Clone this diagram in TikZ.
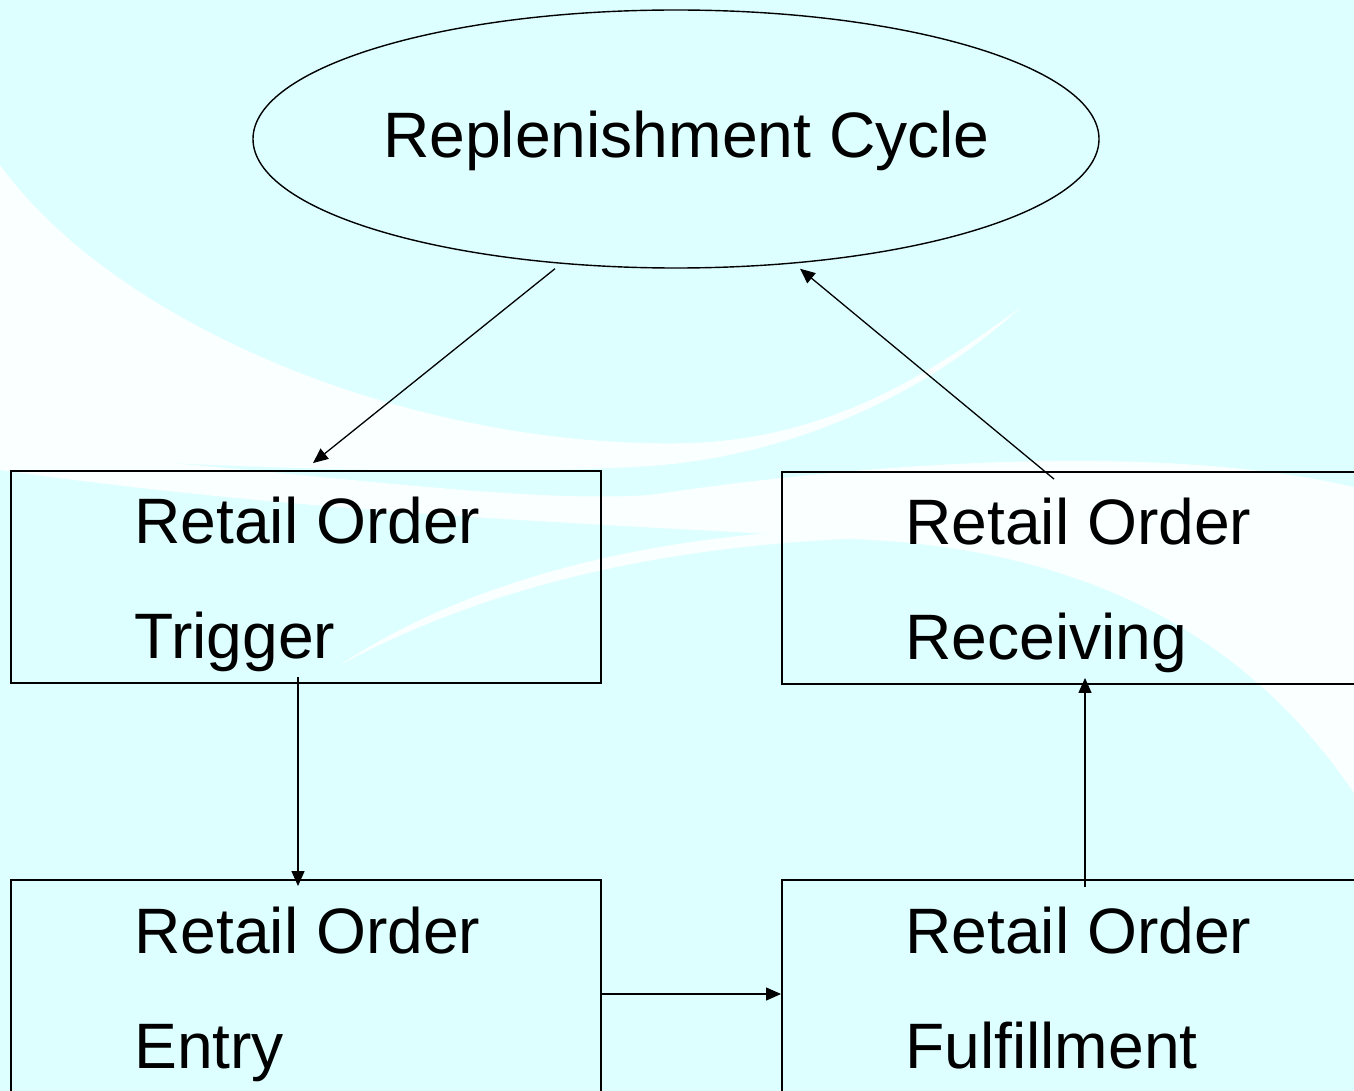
\documentclass[tikz,border=0pt]{standalone}
\usepackage{fontspec}
\setmainfont{Liberation Sans}[Ligatures=NoCommon]
\usetikzlibrary{arrows.meta,shapes.geometric}
\definecolor{bgcyan}{RGB}{221,255,255}
\definecolor{swoosh}{RGB}{250,255,255}
\begin{document}
\begin{tikzpicture}[x=1pt,y=-1pt,
  stagebox/.style={draw=black,line width=1.9pt,minimum width=590pt,minimum height=212pt,inner sep=0pt},
  cyclebox/.style={ellipse,draw=black,line width=1.4pt,minimum width=846pt,minimum height=258pt,inner sep=0pt},
  lbl/.style={anchor=base west,inner sep=0pt,font=\fontsize{64.2pt}{70pt}\selectfont},
  flow/.style={line width=1.3pt,-{Triangle[length=15pt,width=13pt]}}
]
\useasboundingbox (0,0) rectangle (1354,1091);
\clip (0,0) rectangle (1354,1091);

% background and white swooshes
\fill[bgcyan] (0,0) rectangle (1354,1091);
\fill[swoosh] (0,165) .. controls (120,330) and (420,450) .. (690,443)
  .. controls (850,438) and (960,350) .. (1020,308)
  .. controls (930,390) and (800,455) .. (650,466)
  .. controls (450,478) and (200,465) .. (0,455) -- cycle;
\fill[swoosh] (0,452) .. controls (250,462) and (500,505) .. (650,495)
  .. controls (850,465) and (1150,440) .. (1354,487) -- (1354,793)
  .. controls (1250,640) and (1100,560) .. (900,542)
  .. controls (700,527) and (350,520) .. (0,470) -- cycle;
\fill[swoosh] (340,665) .. controls (460,585) and (640,532) .. (870,528)
  -- (870,538) .. controls (640,546) and (470,595) .. (340,665) -- cycle;

% nodes
\node[cyclebox] (cyc) at (676,139) {};
\node[lbl] (cyctext) at (383,158) {Replenishment Cycle};

\node[stagebox] (trig) at (306,577) {};
\node[lbl] (trig1) at (134,543) {Retail Order};
\node[lbl] (trig2) at (134,658) {Trigger};

\node[stagebox] (rec) at (1077,578) {};
\node[lbl] (rec1) at (905,544) {Retail Order};
\node[lbl] (rec2) at (905,659) {Receiving};

\node[stagebox] (ent) at (306,986) {};
\node[lbl] (ent1) at (134,953) {Retail Order};
\node[lbl] (ent2) at (134,1068) {Entry};

\node[stagebox] (ful) at (1077,986) {};
\node[lbl] (ful1) at (905,953) {Retail Order};
\node[lbl] (ful2) at (905,1068) {Fulfillment};

% connectors
\draw[flow] ([xshift=-121pt]cyc.south) -- ([xshift=7pt,yshift=7pt]trig.north);
\draw[flow] ([xshift=-8pt,yshift=7pt]trig.south) -- ([xshift=-8pt,yshift=-7pt]ent.north);
\draw[flow] ([yshift=-8pt]ent.east) -- ([yshift=-8pt]ful.west);
\draw[flow] ([xshift=8pt,yshift=-8pt]ful.north) -- ([xshift=8pt,yshift=7pt]rec.south);
\draw[flow] ([xshift=-23pt,yshift=-8pt]rec.north) -- ([xshift=124pt]cyc.south);
\end{tikzpicture}
\end{document}
